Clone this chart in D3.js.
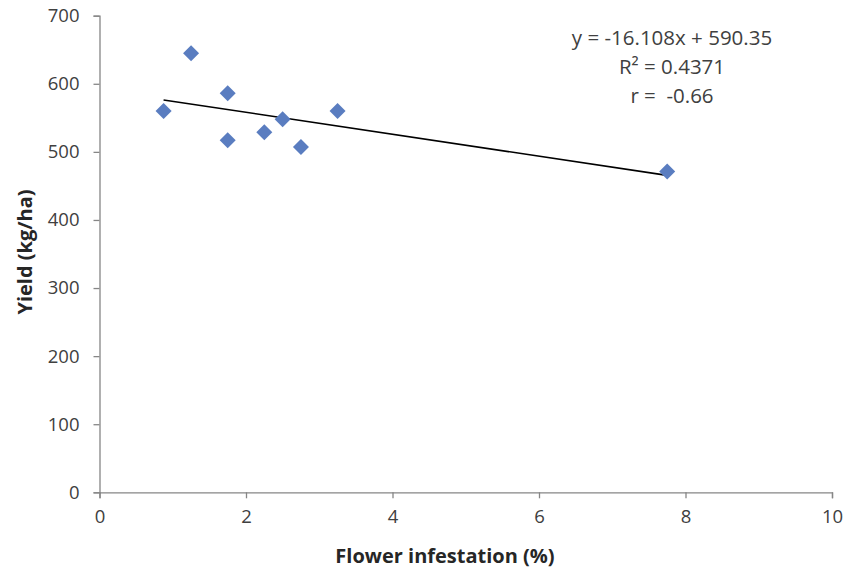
<!DOCTYPE html>
<html>
<head>
<meta charset="utf-8">
<script src="https://cdn.jsdelivr.net/npm/d3@7"></script>
<style>
  body { margin: 0; background: #fff; }
  text { font-family: "Open Sans", "Liberation Sans", sans-serif; fill: #404040; }
  .axisTitle { font-weight: bold; fill: #262626; }
  .eqText { white-space: pre; }
</style>
</head>
<body>
<div id="chart"></div>
<script>
// data
var infestation = [0.875, 1.25, 1.75, 1.75, 2.25, 2.5, 2.75, 3.25, 7.75];
var yieldKg = [560, 645, 586, 517, 529, 548, 507, 560, 471];
var xTicks = [0, 2, 4, 6, 8, 10];
var yTicks = [0, 100, 200, 300, 400, 500, 600, 700];
var slope = -16.108, intercept = 590.35;
var eqLines = ["y = -16.108x + 590.35", "R² = 0.4371", "r =  -0.66"];

var width = 844, height = 569;

var svg = d3.select("#chart").append("svg")
  .attr("width", width).attr("height", height);

var x = d3.scaleLinear().domain([0, 10]).range([99.5, 832]);
var y = d3.scaleLinear().domain([0, 700]).range([492.3, 15.7]);

var axisColour = "#868686";

// x axis
var gx = svg.append("g")
  .attr("transform", "translate(0," + y(0) + ")")
  .call(d3.axisBottom(x).tickValues(xTicks).tickSize(6).tickPadding(12).tickFormat(d3.format("d")));
gx.select(".domain").attr("stroke", axisColour).attr("stroke-width", 1.3);
gx.selectAll(".tick line").attr("stroke", axisColour).attr("stroke-width", 1.3);
gx.selectAll(".tick text").style("font-size", "18.5px").attr("fill", "#404040");

// y axis
var gy = svg.append("g")
  .attr("transform", "translate(" + x(0) + ",0)")
  .call(d3.axisLeft(y).tickValues(yTicks).tickSize(6).tickPadding(14).tickFormat(d3.format("d")));
gy.select(".domain").attr("stroke", axisColour).attr("stroke-width", 1.3);
gy.selectAll(".tick line").attr("stroke", axisColour).attr("stroke-width", 1.3);
gy.selectAll(".tick text").style("font-size", "18.5px").attr("fill", "#404040");

// trendline over the data range
var xMin = d3.min(infestation), xMax = d3.max(infestation);
svg.append("line")
  .attr("x1", x(xMin)).attr("y1", y(slope * xMin + intercept))
  .attr("x2", x(xMax)).attr("y2", y(slope * xMax + intercept))
  .attr("stroke", "#000").attr("stroke-width", 1.6);

// diamond markers
var diamond = d3.symbol().type(d3.symbolSquare).size(128);
svg.append("g").selectAll("path")
  .data(infestation)
  .enter().append("path")
  .attr("d", diamond)
  .attr("transform", function(d, i) {
    return "translate(" + x(d) + "," + y(yieldKg[i]) + ") rotate(45)";
  })
  .attr("fill", "#5a7dc0");

// equation text (keep the double space in the r line)
svg.append("g").selectAll("text")
  .data(eqLines)
  .enter().append("text")
  .attr("class", "eqText")
  .attr("x", 672)
  .attr("y", function(d, i) { return 45 + i * 29; })
  .attr("text-anchor", "middle")
  .style("font-size", "20.5px")
  .text(function(d) { return d; });

// axis titles
svg.append("text").attr("class", "axisTitle")
  .attr("x", 445).attr("y", 563)
  .attr("text-anchor", "middle")
  .style("font-size", "20px")
  .text("Flower infestation (%)");

svg.append("text").attr("class", "axisTitle")
  .attr("transform", "translate(32,252) rotate(-90)")
  .attr("text-anchor", "middle")
  .style("font-size", "20px")
  .text("Yield (kg/ha)");
</script>
</body>
</html>
